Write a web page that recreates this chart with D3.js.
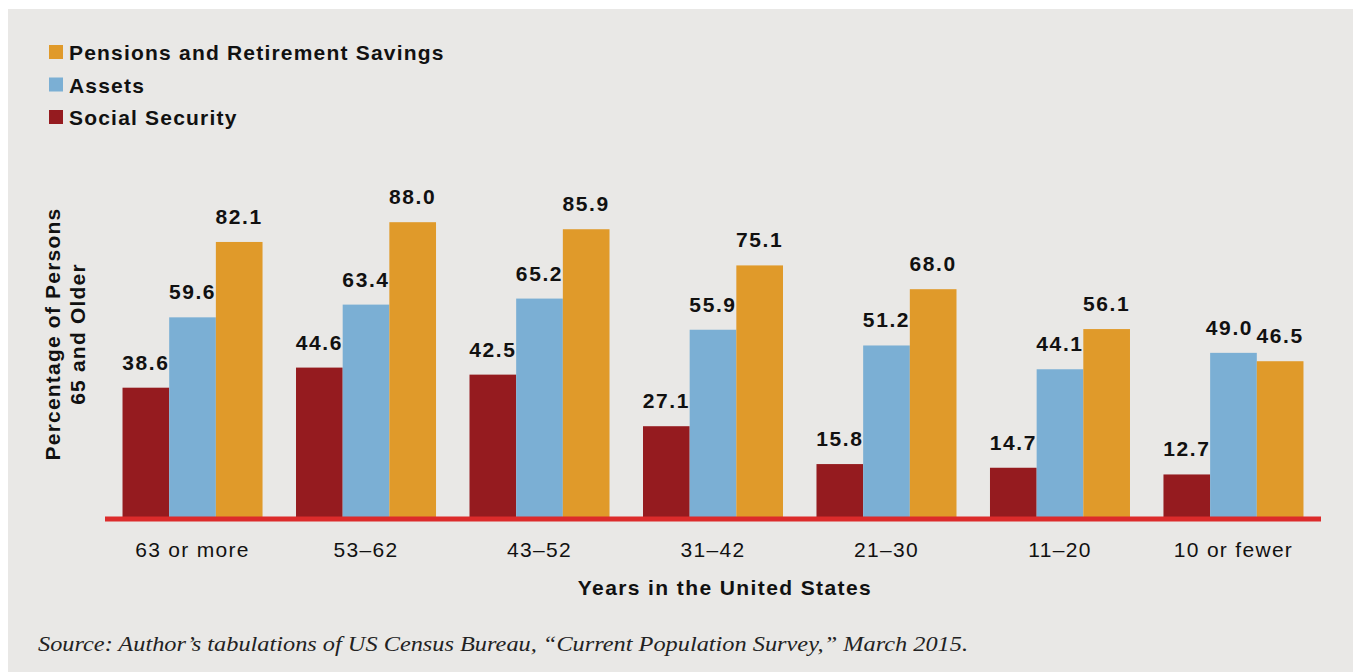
<!DOCTYPE html>
<html>
<head>
<meta charset="utf-8">
<script src="https://cdn.jsdelivr.net/npm/d3@7/dist/d3.min.js"></script>
<style>
  html, body { margin: 0; padding: 0; background: #ffffff; }
  svg { display: block; }
</style>
</head>
<body>
<svg id="chart" width="1353" height="672"></svg>
<script>
// Years in the United States
const categories = ["63 or more", "53\u201362", "43\u201352", "31\u201342", "21\u201330", "11\u201320", "10 or fewer"];
// Series, in the order drawn within each group
const seriesNames = ["Social Security", "Assets", "Pensions and Retirement Savings"];
const socialSecurity = [38.6, 44.6, 42.5, 27.1, 15.8, 14.7, 12.7];
const assets = [59.6, 63.4, 65.2, 55.9, 51.2, 44.1, 49.0];
const pensions = [82.1, 88.0, 85.9, 75.1, 68.0, 56.1, 46.5];
const legendOrder = ["Pensions and Retirement Savings", "Assets", "Social Security"];
const seriesColors = {
  "Social Security": "#951b1f",
  "Assets": "#7bafd4",
  "Pensions and Retirement Savings": "#e09a2a"
};

const seriesValues = [socialSecurity, assets, pensions];
const rows = categories.map((c, i) => ({
  category: c,
  values: seriesNames.map((s, j) => ({ series: s, value: seriesValues[j][i] }))
}));

const svg = d3.select("#chart");
const boldFont = "'Liberation Sans', Arial, sans-serif";

// Panel background
svg.append("rect").attr("x", 8).attr("y", 9).attr("width", 1345).attr("height", 663).attr("fill", "#e9e8e6");

// Scales
const baseline = 517;
const y = d3.scaleLinear().domain([0, 100]).range([baseline, baseline - 335]);
const x0 = d3.scaleBand().domain(categories).range([105, 1321]).paddingInner(0.193).paddingOuter(0.101);
const x1 = d3.scaleBand().domain(seriesNames).range([0, x0.bandwidth()]);

// Bars
const groups = svg.append("g").selectAll("g").data(rows).join("g")
  .attr("transform", d => `translate(${x0(d.category)},0)`);

groups.selectAll("rect").data(d => d.values).join("rect")
  .attr("x", d => x1(d.series))
  .attr("y", d => y(d.value))
  .attr("width", x1.bandwidth())
  .attr("height", d => baseline - y(d.value))
  .attr("fill", d => seriesColors[d.series]);

// Value labels
groups.selectAll("text").data(d => d.values).join("text")
  .attr("x", d => x1(d.series) + x1.bandwidth() / 2 + (d.series === "Assets" && d.value > 45 && d.value < 50 ? -4 : 0))
  .attr("y", d => y(d.value) - 18)
  .attr("text-anchor", "middle")
  .attr("font-family", boldFont)
  .attr("font-weight", "bold")
  .attr("font-size", 21)
  .attr("letter-spacing", 1.6)
  .attr("fill", "#111")
  .text(d => d.value.toFixed(1));

// Baseline rule
svg.append("line")
  .attr("x1", 105).attr("x2", 1321)
  .attr("y1", baseline + 2).attr("y2", baseline + 2)
  .attr("stroke", "#dc2b2b").attr("stroke-width", 5);

// Category axis
const xAxis = svg.append("g")
  .attr("transform", `translate(0,${baseline + 4})`)
  .call(d3.axisBottom(x0).tickSize(0).tickPadding(21));
xAxis.select(".domain").remove();
xAxis.selectAll("text")
  .attr("font-family", boldFont)
  .attr("font-size", 21)
  .attr("letter-spacing", 1.3)
  .attr("fill", "#111");

// Axis titles
svg.append("text")
  .attr("x", 725).attr("y", 595)
  .attr("text-anchor", "middle")
  .attr("font-family", boldFont).attr("font-weight", "bold")
  .attr("font-size", 21).attr("letter-spacing", 1.4)
  .attr("fill", "#111")
  .text("Years in the United States");

const yTitle = svg.append("text")
  .attr("transform", "translate(60,334) rotate(-90)")
  .attr("text-anchor", "middle")
  .attr("font-family", boldFont).attr("font-weight", "bold")
  .attr("font-size", 21).attr("letter-spacing", 1.2)
  .attr("fill", "#111");
yTitle.append("tspan").attr("x", 0).attr("dy", 0).text("Percentage of Persons");
yTitle.append("tspan").attr("x", 0).attr("dy", 25).text("65 and Older");

// Legend
const legend = svg.append("g").selectAll("g").data(legendOrder).join("g")
  .attr("transform", (d, i) => `translate(49,${45 + i * 32.5})`);
legend.append("rect")
  .attr("width", 14).attr("height", 14)
  .attr("fill", d => seriesColors[d]);
legend.append("text")
  .attr("x", 20).attr("y", 15)
  .attr("font-family", boldFont).attr("font-weight", "bold")
  .attr("font-size", 21).attr("letter-spacing", 1.2)
  .attr("fill", "#111")
  .text(d => d);

// Source note
svg.append("text")
  .attr("x", 38).attr("y", 651)
  .attr("font-family", "'Liberation Serif', 'DejaVu Serif', serif")
  .attr("font-style", "italic")
  .attr("font-size", 21)
  .attr("textLength", 930)
  .attr("lengthAdjust", "spacingAndGlyphs")
  .attr("fill", "#222")
  .text("Source: Author\u2019s tabulations of US Census Bureau, \u201cCurrent Population Survey,\u201d March 2015.");
</script>
</body>
</html>
